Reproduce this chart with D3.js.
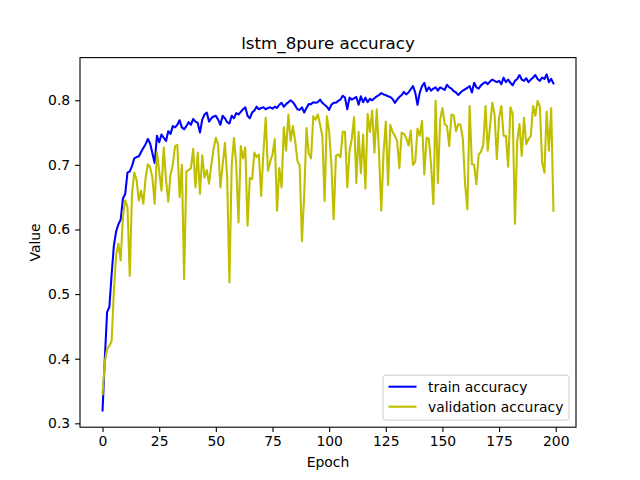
<!DOCTYPE html>
<html>
<head>
<meta charset="utf-8">
<script src="https://cdn.jsdelivr.net/npm/d3@7"></script>
<style>
  body { margin: 0; background: #fff; }
  svg text { font-family: "DejaVu Sans", sans-serif; fill: #000; }
</style>
</head>
<body>
<svg id="chart" width="640" height="480"></svg>
<script>
// Per-epoch accuracy.
const trainAcc = [
  0.320, 0.400, 0.472, 0.480, 0.530, 0.575, 0.597, 0.608, 0.615, 0.648,
  0.655, 0.688, 0.690, 0.698, 0.710, 0.712, 0.713, 0.720, 0.726, 0.732,
  0.740, 0.733, 0.718, 0.703, 0.745, 0.735, 0.747, 0.742, 0.737, 0.752,
  0.748, 0.760, 0.758, 0.762, 0.769, 0.758, 0.755, 0.760, 0.766, 0.762,
  0.771, 0.767, 0.765, 0.750, 0.770, 0.778, 0.781, 0.767, 0.772, 0.775,
  0.776, 0.770, 0.762, 0.776, 0.772, 0.766, 0.764, 0.776, 0.772, 0.780,
  0.778, 0.782, 0.786, 0.789, 0.776, 0.772, 0.781, 0.784, 0.790, 0.786,
  0.788, 0.789, 0.786, 0.788, 0.789, 0.787, 0.790, 0.788, 0.793, 0.796,
  0.790, 0.794, 0.797, 0.800, 0.797, 0.792, 0.786, 0.785, 0.789, 0.781,
  0.788, 0.794, 0.794, 0.797, 0.796, 0.797, 0.801, 0.796, 0.793, 0.790,
  0.785, 0.793, 0.796, 0.796, 0.799, 0.801, 0.807, 0.804, 0.786, 0.804,
  0.801, 0.803, 0.805, 0.793, 0.806, 0.797, 0.804, 0.797, 0.802, 0.800,
  0.803, 0.806, 0.808, 0.811, 0.809, 0.808, 0.806, 0.805, 0.802, 0.796,
  0.801, 0.805, 0.808, 0.813, 0.809, 0.812, 0.817, 0.822, 0.812, 0.793,
  0.812, 0.822, 0.827, 0.814, 0.820, 0.815, 0.818, 0.820, 0.815, 0.820,
  0.818, 0.816, 0.824, 0.820, 0.818, 0.814, 0.812, 0.808, 0.812, 0.815,
  0.817, 0.819, 0.822, 0.812, 0.827, 0.820, 0.818, 0.823, 0.826, 0.828,
  0.825, 0.829, 0.832, 0.830, 0.828, 0.830, 0.825, 0.835, 0.828, 0.832,
  0.827, 0.823, 0.830, 0.833, 0.839, 0.832, 0.830, 0.834, 0.828, 0.832,
  0.835, 0.839, 0.833, 0.830, 0.835, 0.833, 0.840, 0.828, 0.833, 0.826
];

const valAcc = [
  0.345, 0.395, 0.415, 0.420, 0.427, 0.505, 0.560, 0.578, 0.552, 0.620,
  0.645, 0.635, 0.528, 0.655, 0.688, 0.677, 0.645, 0.660, 0.640, 0.680,
  0.701, 0.696, 0.680, 0.640, 0.719, 0.690, 0.660, 0.727, 0.677, 0.643,
  0.685, 0.700, 0.729, 0.731, 0.650, 0.700, 0.523, 0.690, 0.692, 0.695,
  0.725, 0.665, 0.719, 0.655, 0.715, 0.680, 0.692, 0.671, 0.700, 0.725,
  0.742, 0.731, 0.665, 0.700, 0.734, 0.680, 0.518, 0.700, 0.742, 0.700,
  0.611, 0.729, 0.710, 0.727, 0.606, 0.680, 0.678, 0.719, 0.712, 0.716,
  0.652, 0.720, 0.773, 0.691, 0.705, 0.716, 0.740, 0.629, 0.695, 0.665,
  0.758, 0.722, 0.778, 0.737, 0.760, 0.737, 0.706, 0.699, 0.582, 0.654,
  0.757, 0.717, 0.710, 0.775, 0.770, 0.778, 0.762, 0.745, 0.644, 0.775,
  0.752, 0.700, 0.616, 0.714, 0.716, 0.712, 0.751, 0.751, 0.665, 0.721,
  0.740, 0.774, 0.672, 0.751, 0.687, 0.747, 0.663, 0.779, 0.751, 0.784,
  0.719, 0.786, 0.720, 0.629, 0.717, 0.767, 0.669, 0.762, 0.751, 0.745,
  0.737, 0.695, 0.750, 0.748, 0.742, 0.730, 0.753, 0.700, 0.705, 0.756,
  0.745, 0.768, 0.685, 0.742, 0.740, 0.700, 0.639, 0.799, 0.672, 0.770,
  0.788, 0.763, 0.760, 0.729, 0.778, 0.776, 0.752, 0.763, 0.762, 0.740,
  0.670, 0.631, 0.791, 0.701, 0.700, 0.670, 0.716, 0.720, 0.731, 0.791,
  0.722, 0.760, 0.796, 0.778, 0.709, 0.773, 0.791, 0.745, 0.745, 0.697,
  0.789, 0.779, 0.609, 0.737, 0.763, 0.714, 0.773, 0.732, 0.740, 0.745,
  0.791, 0.776, 0.799, 0.790, 0.704, 0.688, 0.782, 0.722, 0.788, 0.629
];

const xTicks = [0, 25, 50, 75, 100, 125, 150, 175, 200];
const yTicks = [0.3, 0.4, 0.5, 0.6, 0.7, 0.8];
const seriesNames = ['train accuracy', 'validation accuracy'];
const seriesColors = ['#0000ff', '#bfbf00'];

// matplotlib-like axes box
const plotLeft = 80, plotRight = 576, plotTop = 57.6, plotBottom = 427.2;

const svg = d3.select('#chart');

const epochs = d3.range(trainAcc.length);
const allVals = trainAcc.concat(valAcc);
const yMin = d3.min(allVals), yMax = d3.max(allVals);
const yPad = (yMax - yMin) * 0.05;
const xPad = (epochs.length - 1) * 0.05;

const x = d3.scaleLinear()
  .domain([-xPad, epochs.length - 1 + xPad])
  .range([plotLeft, plotRight]);
const y = d3.scaleLinear()
  .domain([yMin - yPad, yMax + yPad])
  .range([plotBottom, plotTop]);

// Lines
const line = d3.line()
  .x((d, i) => x(i))
  .y(d => y(d));

[trainAcc, valAcc].forEach((series, i) => {
  svg.append('path')
    .datum(series)
    .attr('fill', 'none')
    .attr('stroke', seriesColors[i])
    .attr('stroke-width', 2.08)
    .attr('stroke-linejoin', 'round')
    .attr('stroke-linecap', 'square')
    .attr('d', line);
});

// Axes
const xAxis = svg.append('g')
  .attr('transform', `translate(0,${plotBottom})`)
  .call(d3.axisBottom(x).tickValues(xTicks).tickSize(4.9).tickPadding(4.2).tickFormat(d3.format('d')));
const yAxis = svg.append('g')
  .attr('transform', `translate(${plotLeft},0)`)
  .call(d3.axisLeft(y).tickValues(yTicks).tickSize(4.9).tickPadding(4.9).tickFormat(d3.format('.1f')));

[xAxis, yAxis].forEach(g => {
  g.select('.domain').remove();
  g.selectAll('line').attr('stroke', '#000').attr('stroke-width', 1.1);
  g.selectAll('text').attr('font-size', 13.9).attr('font-family', '"DejaVu Sans", sans-serif');
});

// Frame
svg.append('rect')
  .attr('x', plotLeft).attr('y', plotTop)
  .attr('width', plotRight - plotLeft).attr('height', plotBottom - plotTop)
  .attr('fill', 'none').attr('stroke', '#000').attr('stroke-width', 1.1);

// Title and labels
svg.append('text')
  .attr('x', (plotLeft + plotRight) / 2).attr('y', 49)
  .attr('text-anchor', 'middle').attr('font-size', 16.7)
  .text('lstm_8pure accuracy');
svg.append('text')
  .attr('x', (plotLeft + plotRight) / 2).attr('y', 467)
  .attr('text-anchor', 'middle').attr('font-size', 13.9)
  .text('Epoch');
svg.append('text')
  .attr('transform', `translate(40,${(plotTop + plotBottom) / 2}) rotate(-90)`)
  .attr('text-anchor', 'middle').attr('font-size', 13.9)
  .text('Value');

// Legend, lower right
const lgW = 186, lgH = 45;
const lgX = plotRight - 7 - lgW, lgY = plotBottom - 7 - lgH;
const legend = svg.append('g').attr('transform', `translate(${lgX},${lgY})`);
legend.append('rect')
  .attr('width', lgW).attr('height', lgH).attr('rx', 3)
  .attr('fill', '#fff').attr('fill-opacity', 0.8)
  .attr('stroke', '#cccccc').attr('stroke-width', 1);
seriesNames.forEach((name, i) => {
  const cy = 11.5 + i * 20;
  legend.append('line')
    .attr('x1', 5.5).attr('x2', 33.5).attr('y1', cy).attr('y2', cy)
    .attr('stroke', seriesColors[i]).attr('stroke-width', 2.08);
  legend.append('text')
    .attr('x', 45).attr('y', cy + 5)
    .attr('font-size', 13.9)
    .text(name);
});
</script>
</body>
</html>
